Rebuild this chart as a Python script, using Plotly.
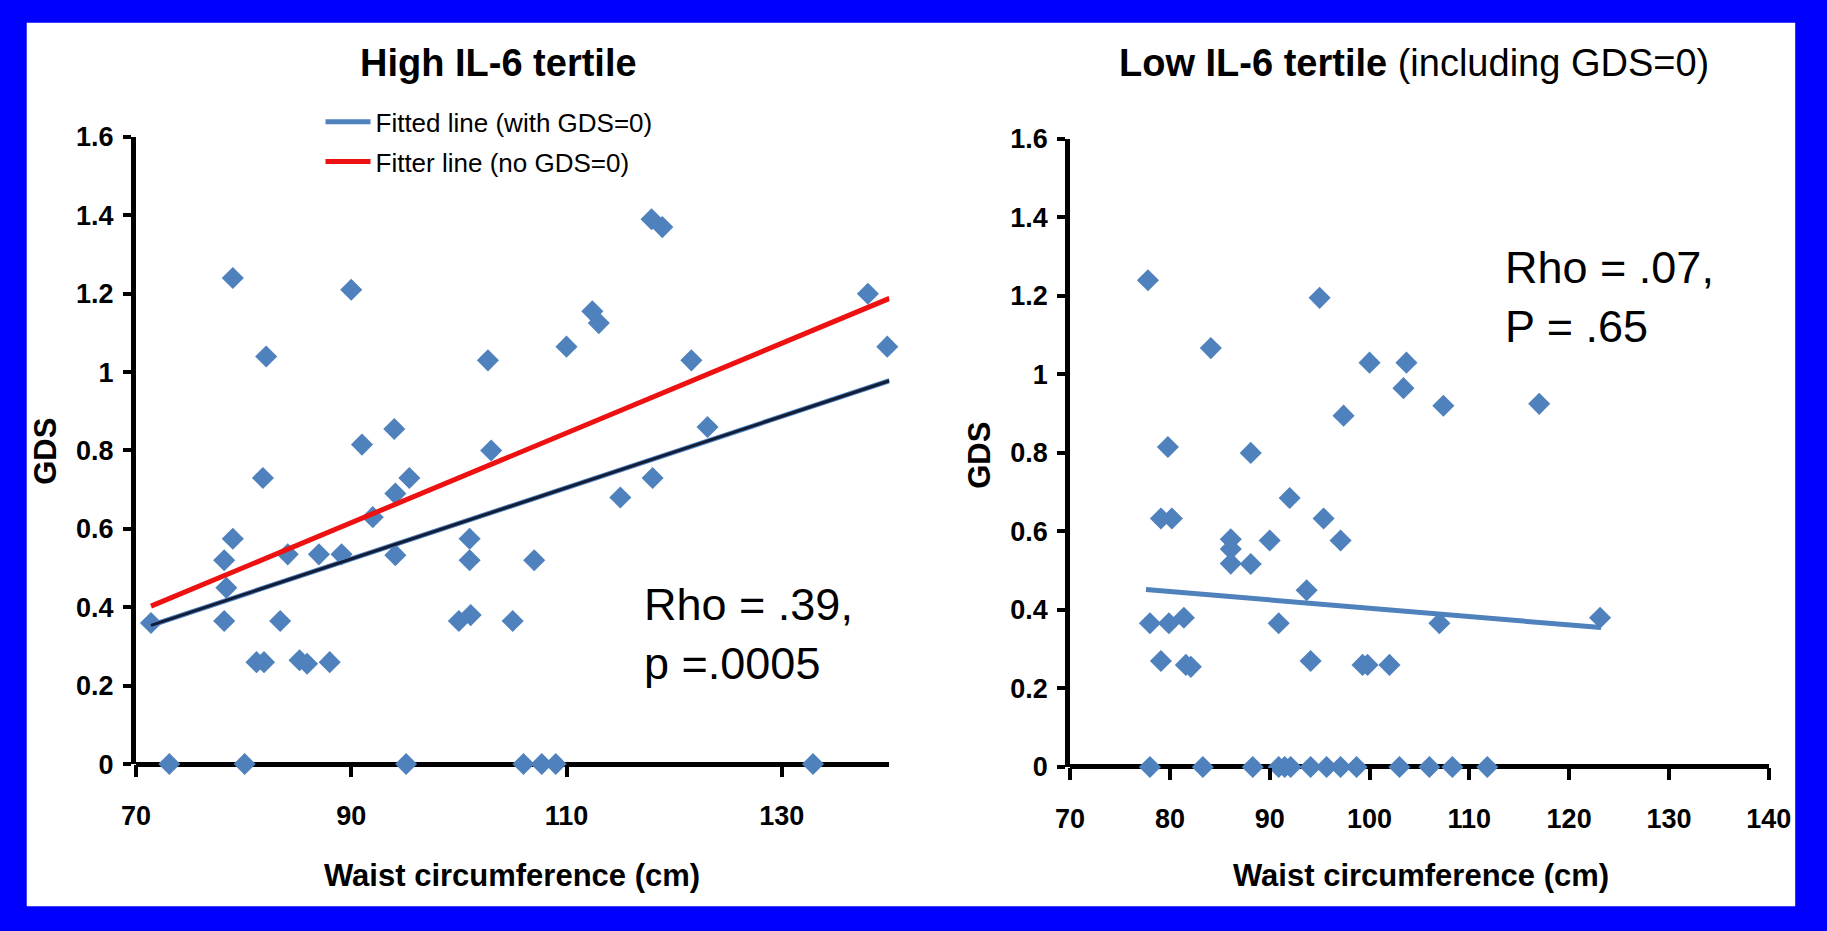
import plotly.graph_objects as go

W, H = 1827, 931

# ---- High IL-6 tertile: waist circumference (cm) vs GDS ----
high_waist = [79.0, 82.1, 90.0, 117.9, 118.9, 138.0, 139.8, 112.4, 113.0, 110.0,
              102.7, 121.6, 123.1, 94.0, 91.0, 103.0, 81.8, 95.4, 118.0, 115.0,
              94.1, 92.0, 79.0, 78.2, 78.4, 78.2, 71.4, 84.1, 87.0, 89.1,
              94.1, 101.0, 101.0, 107.0, 83.4, 100.0, 101.1, 105.0, 81.2, 81.9,
              85.2, 85.9, 88.0, 73.1, 80.1, 95.1, 106.0, 107.7, 109.0, 132.9]
high_gds = [1.24, 1.04, 1.21, 1.39, 1.37, 1.20, 1.065, 1.155, 1.125, 1.065,
            1.03, 1.03, 0.86, 0.855, 0.815, 0.80, 0.73, 0.73, 0.73, 0.68,
            0.69, 0.63, 0.575, 0.52, 0.45, 0.365, 0.36, 0.535, 0.535, 0.535,
            0.533, 0.575, 0.52, 0.52, 0.365, 0.365, 0.38, 0.365, 0.26, 0.26,
            0.265, 0.256, 0.26, 0, 0, 0, 0, 0, 0, 0]

# fitted lines for the high tertile
fit_all_x = [71.4, 140.0]
fit_all_y = [0.354, 0.978]
fit_nozero_x = [71.4, 140.0]
fit_nozero_y = [0.403, 1.188]

# ---- Low IL-6 tertile ----
low_waist = [77.8, 95.0, 84.1, 100.0, 103.7, 103.4, 97.4, 107.4, 117.0, 79.8,
             88.1, 92.0, 79.1, 80.2, 95.4, 86.1, 86.1, 86.1, 90.0, 97.1,
             88.1, 93.7, 78.0, 79.9, 81.4, 90.9, 107.0, 123.1, 79.1, 81.6,
             82.1, 94.1, 99.3, 99.8, 102.0,
             78.0, 83.3, 88.3, 90.9, 91.5, 92.1, 94.1, 95.7, 97.1, 98.7,
             103.0, 106.0, 108.3, 111.8]
low_gds = [1.24, 1.195, 1.067, 1.03, 1.03, 0.965, 0.895, 0.92, 0.925, 0.815,
           0.80, 0.685, 0.633, 0.633, 0.633, 0.58, 0.555, 0.518, 0.577, 0.577,
           0.517, 0.45, 0.366, 0.366, 0.38, 0.366, 0.366, 0.38, 0.27, 0.26,
           0.255, 0.27, 0.26, 0.26, 0.26,
           0, 0, 0, 0, 0, 0, 0, 0, 0, 0,
           0, 0, 0, 0]

low_fit_x = [77.6, 123.2]
low_fit_y = [0.452, 0.355]

left_title = "High IL-6 tertile"
right_title = "<b>Low IL-6 tertile</b> (including GDS=0)"
left_stats = "Rho = .39,<br>p =.0005"
right_stats = "Rho = .07,<br>P = .65"
x_title = "Waist circumference (cm)"
y_title = "GDS"
legend_all = "Fitted line (with GDS=0)"
legend_nozero = "Fitter line (no GDS=0)"

MARK = "#4f81bd"
RED = "#ee1111"
NAVY = "#121c36"
BORDER = "#0000ff"
SANS = "Liberation Sans, Arial, sans-serif"


def px(x):
    return x / W


def py(y):
    return 1 - y / H


fig = go.Figure()

# scatter points
fig.add_trace(go.Scatter(x=high_waist, y=high_gds, mode="markers",
                         marker=dict(symbol="diamond", size=17, color=MARK),
                         cliponaxis=False, showlegend=False,
                         xaxis="x", yaxis="y"))
# fitted line with GDS=0 (blue edge, dark core)
fig.add_trace(go.Scatter(x=fit_all_x, y=fit_all_y, mode="lines",
                         line=dict(color=MARK, width=5), name=legend_all,
                         legendgroup="all", xaxis="x", yaxis="y"))
fig.add_trace(go.Scatter(x=fit_all_x, y=fit_all_y, mode="lines",
                         line=dict(color=NAVY, width=3), showlegend=False,
                         legendgroup="all", xaxis="x", yaxis="y"))
# fitted line without GDS=0
fig.add_trace(go.Scatter(x=fit_nozero_x, y=fit_nozero_y, mode="lines",
                         line=dict(color=RED, width=5), name=legend_nozero,
                         legendgroup="nozero", xaxis="x", yaxis="y"))

fig.add_trace(go.Scatter(x=low_waist, y=low_gds, mode="markers",
                         marker=dict(symbol="diamond", size=17, color=MARK),
                         cliponaxis=False, showlegend=False,
                         xaxis="x2", yaxis="y2"))
fig.add_trace(go.Scatter(x=low_fit_x, y=low_fit_y, mode="lines",
                         line=dict(color=MARK, width=5), showlegend=False,
                         xaxis="x2", yaxis="y2"))

tickfont = dict(family=SANS, size=27, color="black", weight="bold")

common_x = dict(showgrid=False, zeroline=False, showline=False,
                ticks="outside", ticklen=12, tickwidth=4, tickcolor="black",
                tickfont=tickfont, ticklabelstandoff=16, fixedrange=True)
common_y = dict(range=[0, 1.6], dtick=0.2, tick0=0, showgrid=False,
                zeroline=True, zerolinewidth=5, zerolinecolor="black",
                showline=True, linewidth=5, linecolor="black",
                ticks="outside", ticklen=8, tickwidth=4, tickcolor="black",
                tickfont=tickfont, ticklabelstandoff=4, fixedrange=True)

fig.update_layout(
    width=W, height=H, autosize=False,
    margin=dict(l=0, r=0, t=0, b=0),
    paper_bgcolor=BORDER, plot_bgcolor="white",
    xaxis=dict(domain=[px(123.5), px(893)], range=[70, 140], tick0=70, dtick=20,
               anchor="y", **common_x),
    yaxis=dict(domain=[py(774), py(126)], anchor="x", **common_y),
    xaxis2=dict(domain=[px(1077.5), px(1791)], range=[70, 140], tick0=70, dtick=10,
                anchor="y2", **common_x),
    yaxis2=dict(domain=[py(777), py(128)], anchor="x2", **common_y),
    legend=dict(x=px(312), y=py(86), xanchor="left", yanchor="top",
                bgcolor="rgba(0,0,0,0)",
                font=dict(family=SANS, size=26, color="black"),
                tracegroupgap=3, itemwidth=45),
    shapes=[dict(type="rect", xref="paper", yref="paper", layer="below",
                 x0=px(12), x1=px(1818), y0=py(921), y1=py(8),
                 fillcolor="white", line=dict(width=0))],
)

ann = []
ann.append(dict(text=left_title, x=px(494), y=py(50), xref="paper", yref="paper",
                showarrow=False, xanchor="center", yanchor="middle",
                font=dict(family=SANS, size=38, color="black", weight="bold")))
ann.append(dict(text=right_title, x=px(1429), y=py(50), xref="paper", yref="paper",
                showarrow=False, xanchor="center", yanchor="middle",
                font=dict(family=SANS, size=38, color="black")))
for cx in (508, 1436):
    ann.append(dict(text=x_title, x=px(cx), y=py(889), xref="paper", yref="paper",
                    showarrow=False, xanchor="center", yanchor="middle",
                    font=dict(family=SANS, size=31, color="black", weight="bold")))
for cx, cy in ((31, 451), (985, 455)):
    ann.append(dict(text=y_title, x=px(cx), y=py(cy), xref="paper", yref="paper",
                    showarrow=False, xanchor="center", yanchor="middle", textangle=-90,
                    font=dict(family=SANS, size=31, color="black", weight="bold")))
ann.append(dict(text=left_stats, x=px(640), y=py(640), xref="paper", yref="paper",
                showarrow=False, xanchor="left", yanchor="middle", align="left",
                font=dict(family=SANS, size=45, color="black")))
ann.append(dict(text=right_stats, x=px(1520), y=py(291), xref="paper", yref="paper",
                showarrow=False, xanchor="left", yanchor="middle", align="left",
                font=dict(family=SANS, size=45, color="black")))
fig.update_layout(annotations=ann)

fig.write_html("out.html")
